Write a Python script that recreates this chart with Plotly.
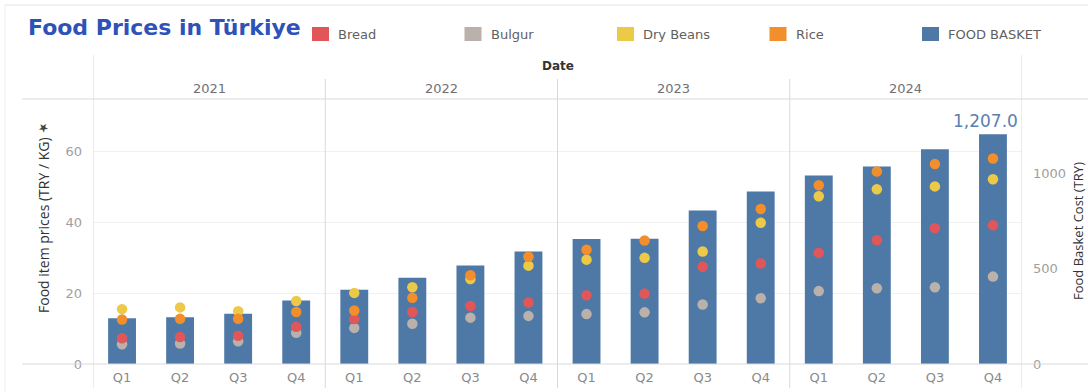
import plotly.graph_objects as go

# Quarterly food prices in Türkiye
years = ["2021", "2022", "2023", "2024"]
quarters = ["Q1", "Q2", "Q3", "Q4"]

# Food basket cost (TRY), one value per quarter from 2021 Q1 to 2024 Q4
food_basket = [240, 245, 264, 334, 390, 453, 518, 591,
               656, 658, 806, 906, 990, 1037, 1128, 1207]

# Food item prices (TRY / KG)
bread = [7.3, 7.6, 8.0, 10.5, 12.7, 14.7, 16.4, 17.4,
         19.4, 19.9, 27.5, 28.4, 31.4, 35.0, 38.4, 39.2]
bulgur = [5.6, 5.8, 6.4, 8.8, 10.2, 11.4, 13.1, 13.6,
          14.1, 14.6, 16.8, 18.6, 20.6, 21.4, 21.7, 24.7]
dry_beans = [15.5, 16.0, 14.9, 17.8, 20.1, 21.7, 24.0, 27.8,
             29.5, 30.0, 31.8, 39.9, 47.4, 49.4, 50.2, 52.2]
rice = [12.6, 12.8, 12.8, 14.7, 15.1, 18.7, 25.1, 30.3,
        32.3, 34.9, 39.0, 43.8, 50.5, 54.4, 56.5, 58.1]

categories = [f"{y} {q}" for y in years for q in quarters]
tick_text = [q for y in years for q in quarters]

W, H = 1088, 392
M_L, M_R, M_T, M_B = 93, 66, 99, 28
PLOT_W = W - M_L - M_R
PLOT_H = H - M_T - M_B


def px_x(px):
    """Horizontal pixel position -> paper coordinate."""
    return (px - M_L) / PLOT_W


def px_y(py):
    """Vertical pixel position (from top) -> paper coordinate."""
    return (H - M_B - py) / PLOT_H


FONT = "DejaVu Sans"
TITLE_FONT = "Open Sans"
BAR_COLOR = "#4e79a7"
COLORS = {"Bread": "#e15759", "Bulgur": "#bab0ac", "Dry Beans": "#edc948",
          "Rice": "#f28e2b", "FOOD BASKET": BAR_COLOR}
item_series = [("Bulgur", bulgur), ("Bread", bread),
               ("Dry Beans", dry_beans), ("Rice", rice)]
legend_labels = ["Bread", "Bulgur", "Dry Beans", "Rice", "FOOD BASKET"]

fig = go.Figure()

# Basket cost bars on the right-hand axis (drawn underneath)
fig.add_trace(go.Bar(
    x=categories, y=food_basket, name="FOOD BASKET",
    marker=dict(color=BAR_COLOR, line=dict(width=0)),
    width=0.48, yaxis="y",
))

# Item price dots on the left-hand axis
for name, vals in item_series:
    fig.add_trace(go.Scatter(
        x=categories, y=vals, name=name, mode="markers",
        marker=dict(color=COLORS[name], size=10.5, line=dict(width=0)),
        yaxis="y2",
    ))

GRID = "#d9d9d9"
shapes = []
# Year separators
for i, xb in enumerate([-0.5, 3.5, 7.5, 11.5, 15.5]):
    top = px_y(55) if i in (0, 4) else px_y(79)
    shapes.append(dict(type="line", xref="x", yref="paper",
                       x0=xb, x1=xb, y0=px_y(388), y1=top,
                       line=dict(color=GRID, width=1)))
# Header rule and baseline
for py in (99, 364):
    shapes.append(dict(type="line", xref="paper", yref="paper",
                       x0=px_x(22), x1=px_x(W), y0=px_y(py), y1=px_y(py),
                       line=dict(color=GRID, width=1)))
# Outer frame
shapes.append(dict(type="line", xref="paper", yref="paper",
                   x0=px_x(5), x1=px_x(W), y0=px_y(5), y1=px_y(5),
                   line=dict(color="#e6e6e6", width=1)))
shapes.append(dict(type="line", xref="paper", yref="paper",
                   x0=px_x(5), x1=px_x(5), y0=px_y(H), y1=px_y(5),
                   line=dict(color="#eeeeee", width=1)))

annotations = []

# Legend: colour swatches with labels
for i, name in enumerate(legend_labels):
    left = 312 + 152.5 * i
    shapes.append(dict(type="rect", xref="paper", yref="paper",
                       x0=px_x(left), x1=px_x(left + 17),
                       y0=px_y(41), y1=px_y(27),
                       fillcolor=COLORS[name], line=dict(width=0)))
    annotations.append(dict(x=px_x(left + 24), y=px_y(34), xref="paper", yref="paper",
                            text=name, showarrow=False, xanchor="left", yanchor="middle",
                            font=dict(family=FONT, size=13, color="#5f5f5f")))

# Year headers
for i, y in enumerate(years):
    annotations.append(dict(x=4 * i + 1.5, y=px_y(88), xref="x", yref="paper",
                            text=y, showarrow=False, xanchor="center", yanchor="middle",
                            font=dict(family=FONT, size=13, color="#707070")))
annotations.append(dict(x=7.5, y=px_y(66), xref="x", yref="paper",
                        text="<b>Date</b>", showarrow=False,
                        xanchor="center", yanchor="middle",
                        font=dict(family=FONT, size=12, color="#333333")))
# Axis titles
annotations.append(dict(x=px_x(43), y=px_y(225), xref="paper", yref="paper",
                        text="Food item prices (TRY / KG)", textangle=-90,
                        showarrow=False, xanchor="center", yanchor="middle",
                        font=dict(family=TITLE_FONT, size=14, color="#333333")))
annotations.append(dict(x=px_x(43), y=px_y(128), xref="paper", yref="paper",
                        text="★", textangle=-40, showarrow=False,
                        xanchor="center", yanchor="middle",
                        font=dict(family="DejaVu Sans", size=12, color="#444444")))
annotations.append(dict(x=px_x(1078), y=px_y(231), xref="paper", yref="paper",
                        text="Food Basket Cost (TRY)", textangle=-90,
                        showarrow=False, xanchor="center", yanchor="middle",
                        font=dict(family=TITLE_FONT, size=13, color="#333333")))
# Latest basket value label
last = len(food_basket) - 1
annotations.append(dict(x=categories[last], y=food_basket[last], xref="x", yref="y",
                        text=f"{food_basket[last]:,.1f}", showarrow=False,
                        xanchor="center", yanchor="bottom", yshift=1, xshift=-7,
                        font=dict(family=FONT, size=17, color="#5b80b0")))

fig.update_layout(
    width=W, height=H,
    margin=dict(l=M_L, r=M_R, t=M_T, b=M_B, pad=0, autoexpand=False),
    paper_bgcolor="white", plot_bgcolor="white",
    font=dict(family=FONT, size=13, color="#777777"),
    title=dict(text="Food Prices in Türkiye", x=28 / W, xanchor="left",
               y=1 - 27 / H, yanchor="middle",
               font=dict(family=FONT, size=22, color="#2d52b8", weight=600)),
    showlegend=False,
    bargap=0.5,
    xaxis=dict(type="category", categoryorder="array", categoryarray=categories,
               tickvals=categories, ticktext=tick_text, range=[-0.5, 15.5],
               showgrid=False, showline=False, zeroline=False, ticks="",
               ticklabelstandoff=4,
               tickfont=dict(family=FONT, size=13, color="#8a8a8a")),
    yaxis=dict(side="right", range=[0, 1392], tickvals=[0, 500, 1000],
               showgrid=False, zeroline=False, showline=False, ticks="",
               ticklabelstandoff=10,
               tickfont=dict(family=FONT, size=13, color="#a0a0a0")),
    yaxis2=dict(side="left", overlaying="y", range=[0, 74.9],
                tickvals=[0, 20, 40, 60], showgrid=True, gridcolor="#f1f1f1",
                zeroline=False, showline=False, ticks="",
                ticklabelstandoff=10,
                tickfont=dict(family=FONT, size=13, color="#a0a0a0")),
    shapes=shapes,
    annotations=annotations,
)

fig.write_html("out.html")
